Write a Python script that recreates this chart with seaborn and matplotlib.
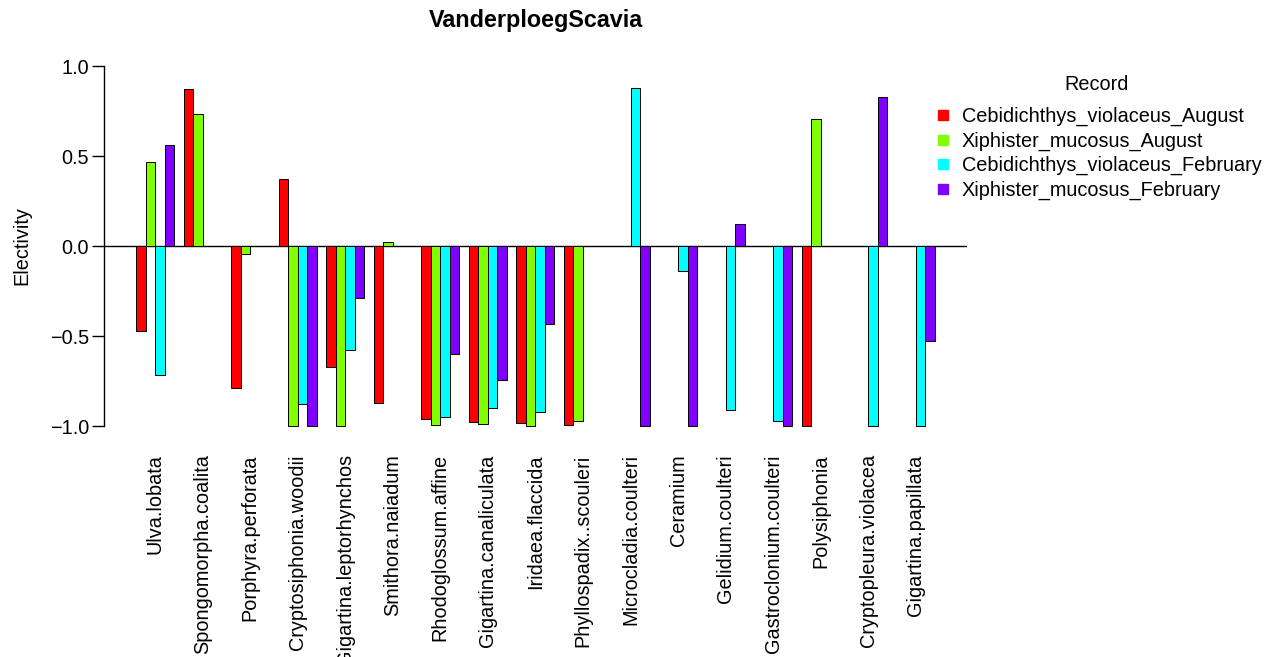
import numpy as np
import pandas as pd
import matplotlib
matplotlib.use('Agg')
import matplotlib.pyplot as plt
import seaborn as sns
from matplotlib.lines import Line2D

# Species (groups) and records (hue)
species = ['Ulva.lobata', 'Spongomorpha.coalita', 'Porphyra.perforata',
           'Cryptosiphonia.woodii', 'Gigartina.leptorhynchos', 'Smithora.naiadum',
           'Rhodoglossum.affine', 'Gigartina.canaliculata', 'Iridaea.flaccida',
           'Phyllospadix..scouleri', 'Microcladia.coulteri', 'Ceramium',
           'Gelidium.coulteri', 'Gastroclonium.coulteri', 'Polysiphonia',
           'Cryptopleura.violacea', 'Gigartina.papillata']
records = ['Cebidichthys_violaceus_August', 'Xiphister_mucosus_August',
           'Cebidichthys_violaceus_February', 'Xiphister_mucosus_February']
colors = ['#FF0000', '#80FF00', '#00FFFF', '#8000FF']

nan = np.nan
cv_aug = [-0.47, 0.87, -0.79, 0.37, -0.67, -0.87, -0.96, -0.98, -0.985, -0.995,
          nan, nan, nan, nan, -1.0, nan, nan]
xm_aug = [0.465, 0.735, -0.045, -1.0, -1.0, 0.02, -0.995, -0.99, -0.998, -0.97,
          nan, nan, nan, nan, 0.705, nan, nan]
cv_feb = [-0.715, nan, nan, -0.875, -0.58, nan, -0.95, -0.90, -0.92, nan,
          0.88, -0.14, -0.91, -0.97, nan, -1.0, -1.0]
xm_feb = [0.56, nan, nan, -1.0, -0.29, nan, -0.60, -0.745, -0.435, nan,
          -1.0, -1.0, 0.125, -1.0, nan, 0.83, -0.53]

df = pd.DataFrame({
    'species': np.repeat(species, 4),
    'record': records * len(species),
    'value': np.column_stack([cv_aug, xm_aug, cv_feb, xm_feb]).ravel(),
})

W, H = 1271, 657
fs = 14.3
plt.rcParams['font.family'] = ['Liberation Sans', 'DejaVu Sans']
fig = plt.figure(figsize=(W / 100, H / 100), dpi=100)
ax = fig.add_axes([104 / W, 1 - 440.4 / H, (967 - 104) / W, (440.4 - 51.6) / H])

sns.barplot(data=df, x='species', y='value', hue='record', order=species,
            hue_order=records, palette=colors, edgecolor='black', linewidth=0.7,
            width=0.8, errorbar=None, legend=False, saturation=1, ax=ax)

ax.axhline(0, color='black', lw=1, zorder=0)
ax.set_xlim(-1.073, 17.077)
ax.set_ylim(-1.08, 1.08)

for s in ['top', 'right', 'bottom']:
    ax.spines[s].set_visible(False)
ax.spines['left'].set_bounds(-1, 1)
ax.spines['left'].set_linewidth(1)

ax.set_yticks([-1.0, -0.5, 0.0, 0.5, 1.0])
ax.set_yticklabels(['\u22121.0', '\u22120.5', '0.0', '0.5', '1.0'])
ax.tick_params(axis='y', length=8.6, width=1, pad=2.2, labelsize=fs)
ax.tick_params(axis='x', length=0, pad=10, labelsize=fs, labelrotation=90)
for lbl in ax.get_xticklabels():
    lbl.set_va('top')
    lbl.set_ha('center')

ax.set_xlabel('')
ax.set_ylabel('Electivity', fontsize=fs)
ax.yaxis.set_label_coords((31 - 104) / (967 - 104), 0.5)

fig.text(535.5 / W, 1 - 20 / H, 'VanderploegScavia', ha='center', va='center',
         fontsize=16.8, fontweight='bold')

# legend title placed separately, R-style spacing
fig.text(1097 / W, 1 - 85 / H, 'Record', ha='center', va='center', fontsize=fs)
handles = [Line2D([], [], marker='s', linestyle='', color=c, markersize=6.5)
           for c in colors]
leg = ax.legend(handles, records, loc='upper left',
                bbox_to_anchor=(936.7 / W, 1 - 107 / H), bbox_transform=fig.transFigure,
                frameon=False, fontsize=fs, handlelength=0.6,
                handletextpad=0.65, labelspacing=0.27, borderpad=0, borderaxespad=0)

fig.savefig('out.png', dpi=100)
